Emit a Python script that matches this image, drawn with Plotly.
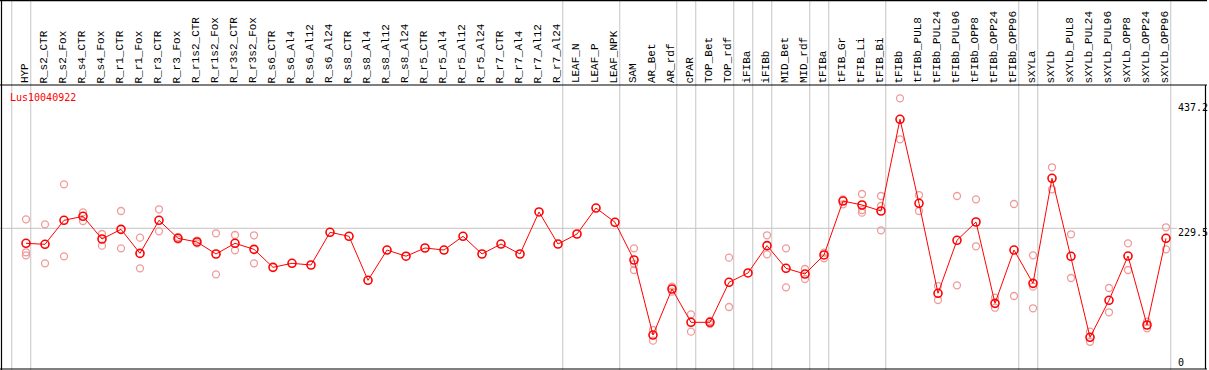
import plotly.graph_objects as go

categories = [
    "HYP", "R_s2_CTR", "R_s2_Fox", "R_s4_CTR", "R_s4_Fox", "R_r1_CTR", "R_r1_Fox",
    "R_r3_CTR", "R_r3_Fox", "R_r1s2_CTR", "R_r1s2_Fox", "R_r3s2_CTR", "R_r3s2_Fox",
    "R_s6_CTR", "R_s6_Al4", "R_s6_Al12", "R_s6_Al24", "R_s8_CTR", "R_s8_Al4",
    "R_s8_Al12", "R_s8_Al24", "R_r5_CTR", "R_r5_Al4", "R_r5_Al12", "R_r5_Al24",
    "R_r7_CTR", "R_r7_Al4", "R_r7_Al12", "R_r7_Al24", "LEAF_N", "LEAF_P", "LEAF_NPK",
    "SAM", "AR_Bet", "AR_rdf", "cPAR", "TOP_Bet", "TOP_rdf", "iFIBa", "iFIBb",
    "MID_Bet", "MID_rdf", "tFIBa", "tFIB_Gr", "tFIB_Li", "tFIB_Bi", "tFIBb",
    "tFIBb_PUL8", "tFIBb_PUL24", "tFIBb_PUL96", "tFIBb_OPP8", "tFIBb_OPP24",
    "tFIBb_OPP96", "sXYLa", "sXYLb", "sXYLb_PUL8", "sXYLb_PUL24", "sXYLb_PUL96",
    "sXYLb_OPP8", "sXYLb_OPP24", "sXYLb_OPP96",
]

means = [
    203.7, 202.0, 243.2, 250.1, 211.1, 227.7, 186.5, 243.2, 212.3, 206.0,
    185.4, 203.7, 193.4, 162.5, 169.4, 166.5, 222.6, 215.8, 140.2, 192.2,
    181.6, 195.7, 192.2, 215.8, 185.4, 202.5, 185.4, 257.5, 202.5, 219.7,
    264.3, 239.8, 175.1, 46.3, 125.3, 68.1, 68.1, 136.8, 152.8, 199.7,
    160.8, 151.0, 183.7, 276.3, 269.5, 259.2, 416.6, 272.4, 117.9, 208.9,
    240.3, 100.7, 192.2, 135.0, 315.3, 181.4, 42.4, 105.9, 181.9, 63.5,
    212.3,
]

N = None
rep1 = [
    244.9, 236.3, 305.0, 256.9, 219.7, 259.2, 213.4, 262.1, 214.5, 208.5,
    220.9, 218.0, 217.5, N, N, N, N, N, N, N,
    N, N, N, N, N, N, N, N, N, N,
    N, N, 195.1, 54.9, 129.3, 81.8, 70.4, 179.1, N, 217.5,
    195.1, 159.6, 187.6, 279.2, 288.4, 284.9, 452.6, 286.6, 130.4, 284.9,
    279.2, 110.4, 271.2, 183.1, 334.2, 219.2, 52.1, 127.0, 203.7, 69.2,
    231.2,
]
rep2 = [
    188.3, 169.4, 181.4, 242.0, 199.7, 195.1, 160.8, 224.3, 210.0, 203.5,
    150.5, 191.7, 169.4, N, N, N, N, N, N, N,
    N, N, N, N, N, N, N, N, N, N,
    N, N, 168.0, 36.6, 120.7, 52.1, 65.2, 94.4, N, 184.8,
    128.2, 142.5, 178.0, 270.7, 260.9, 267.8, 382.2, 259.2, 106.4, 131.6,
    198.6, 93.2, 113.3, 129.3, 296.4, 144.2, 34.8, 85.3, 157.9, 57.8,
    193.4,
]
rep3 = [
    183.1, N, N, N, N, N, N, N, N, N,
    N, N, N, N, N, N, N, N, N, N,
    N, N, N, N, N, N, N, N, N, N,
    N, N, 157.9, N, N, N, N, N, N, N,
    N, N, N, N, 256.3, 226.0, N, N, N, N,
    N, N, N, 92.2, N, N, N, N, N, N,
    N,
]

group_ends = [-1, 0, 28, 31, 34, 35, 37, 38, 39, 41, 42, 45, 52, 53, 60]
ytick_vals = [437.2, 229.5, 0]
ytick_text = ["437.2", "229.5", "0"]
gene = "Lus10040922"

# ---- geometry (pixels) ----
W, H = 1209, 370
X0PX, DX = 26.0, 19.0      # pixel of first category, pixel step
Y0PX, DY = 362.0, 0.5826   # pixel of value 0, pixels per unit

def ypx(p):
    return (Y0PX - p) / DY

def xpaper(p):
    return p / W

def ypaper(p):
    return (H - p) / H

xr = [-X0PX / DX, (W - X0PX) / DX]
yr = [ypx(H), ypx(0)]

fig = go.Figure()

rep_x, rep_y = [], []
for reps in (rep1, rep2, rep3):
    for i, v in enumerate(reps):
        if v is not None:
            rep_x.append(i)
            rep_y.append(v)

fig.add_trace(go.Scatter(
    x=rep_x, y=rep_y, mode="markers",
    marker=dict(symbol="circle-open", size=7, color="#f09a9a", line=dict(width=1.3)),
    hoverinfo="skip", showlegend=False,
))
fig.add_trace(go.Scatter(
    x=list(range(len(categories))), y=means, mode="lines+markers",
    line=dict(color="#ff0000", width=1),
    marker=dict(symbol="circle-open", size=8, color="#ff0000", line=dict(width=1.6)),
    showlegend=False,
))

shapes = []
for g in group_ends:
    shapes.append(dict(type="line", xref="x", yref="paper", x0=g + 0.25, x1=g + 0.25,
                       y0=0, y1=1, line=dict(color="#c4c4c4", width=1), layer="below"))
shapes.append(dict(type="line", xref="paper", yref="y", x0=0, x1=xpaper(1177),
                   y0=ytick_vals[1], y1=ytick_vals[1],
                   line=dict(color="#c4c4c4", width=1), layer="below"))
black = dict(color="#000000", width=1.2)
shapes.append(dict(type="line", xref="paper", yref="paper", x0=0, x1=xpaper(1207),
                   y0=ypaper(85), y1=ypaper(85), line=black))
shapes.append(dict(type="line", xref="paper", yref="paper", x0=0, x1=xpaper(1207),
                   y0=ypaper(0.6), y1=ypaper(0.6), line=black))
shapes.append(dict(type="line", xref="paper", yref="paper", x0=0, x1=xpaper(1207),
                   y0=ypaper(369), y1=ypaper(369), line=black))
shapes.append(dict(type="line", xref="paper", yref="paper", x0=xpaper(1.5), x1=xpaper(1.5),
                   y0=0, y1=1, line=black))
shapes.append(dict(type="line", xref="paper", yref="paper", x0=xpaper(1205.5), x1=xpaper(1205.5),
                   y0=ypaper(369), y1=ypaper(85), line=black))

annotations = []
for i, c in enumerate(categories):
    annotations.append(dict(
        x=i - 0.075, y=ypx(84.5), xref="x", yref="y", text=c, showarrow=False,
        textangle=-90, xanchor="center", yanchor="bottom", borderpad=0,
        font=dict(family="Liberation Mono", size=11, color="#000000"),
    ))
shifts = [0, -4, 0]
for v, t, s in zip(ytick_vals, ytick_text, shifts):
    annotations.append(dict(
        x=xpaper(1177), y=v, xref="paper", yref="y", text=t, showarrow=False,
        xanchor="left", yanchor="middle", yshift=s, borderpad=0,
        font=dict(family="DejaVu Sans Mono", size=10, color="#000000"),
    ))
annotations.append(dict(
    x=xpaper(9), y=ypx(97.5), xref="paper", yref="y", text=gene, showarrow=False,
    xanchor="left", yanchor="middle", borderpad=0,
    font=dict(family="DejaVu Sans Mono", size=10, color="#ff0000"),
))

fig.update_layout(
    width=W, height=H, autosize=False,
    margin=dict(l=0, r=0, t=0, b=0, pad=0),
    paper_bgcolor="#ffffff", plot_bgcolor="#ffffff",
    xaxis=dict(range=xr, visible=False, fixedrange=True),
    yaxis=dict(range=yr, visible=False, fixedrange=True),
    shapes=shapes, annotations=annotations,
    showlegend=False,
)

fig.write_html("out.html", config={"displayModeBar": False},
               post_script="document.body.style.margin='0';document.body.style.overflow='hidden';")
